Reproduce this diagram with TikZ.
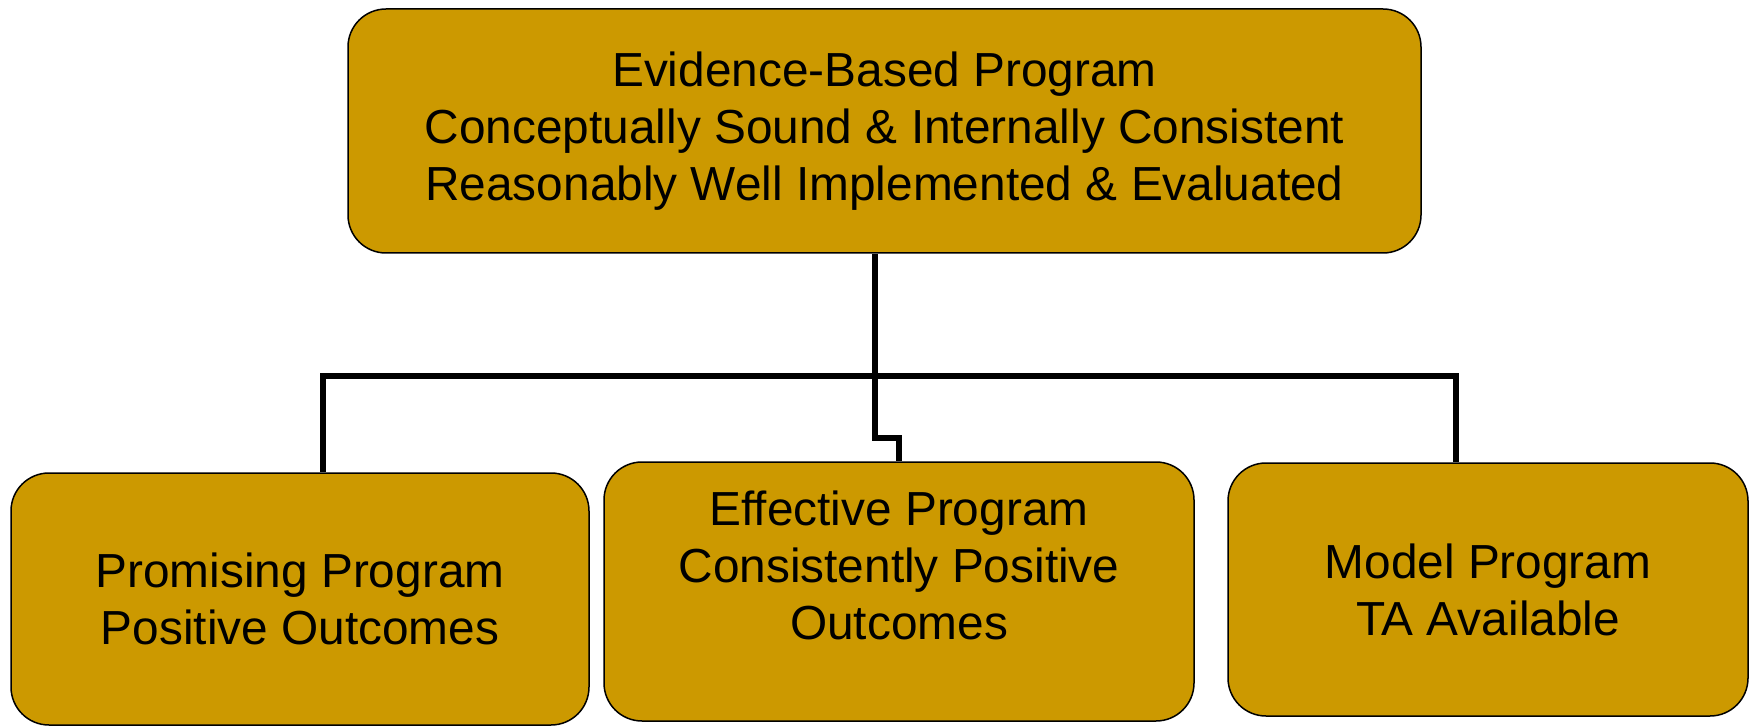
\documentclass[tikz,border=0pt]{standalone}
\usepackage{fontspec}
\setmainfont{Liberation Sans}
\usepackage{xcolor}
\usepackage{tikz}
\usetikzlibrary{positioning}
\definecolor{gold}{HTML}{CC9900}

\begin{document}
\begin{tikzpicture}[x=0.5pt, y=-0.5pt, font=\fontsize{23.9}{28.5}\selectfont,
  box/.style={draw, line width=0.75pt, fill=gold, rounded corners=19pt, align=center, inner sep=0pt},
  wire/.style={line width=2.6pt}]
\useasboundingbox (0,0) rectangle (1755,727);
\node[box, minimum width=536.5pt, minimum height=122pt] (ebp) at (884.5,131)
  {Evidence-Based Program\\Conceptually Sound \& Internally Consistent\\Reasonably Well Implemented \& Evaluated};
\node[box, minimum width=289pt, minimum height=126pt] (prom) at (300,599)
  {Promising Program\\Positive Outcomes};
\node[box, minimum width=295pt, minimum height=129.5pt,
  label={[align=center, yshift=13pt]center:{Effective Program\\Consistently Positive\\Outcomes}}] (eff) at (899,591.5) {};
\node[box, minimum width=260pt, minimum height=126.5pt] (model) at (1488,589.5)
  {Model Program\\TA Available};
% joints of the tree
\coordinate (hub) at (875,376);
\coordinate (jog) at (875,438);
\coordinate (lj) at (323,376);
\coordinate (rj) at (1456,376);
\draw[wire] (ebp.south -| hub) -- (hub);
\draw[wire] (hub) -- (lj) -- (prom.north -| lj);
\draw[wire] (hub) -- (rj) -- (model.north -| rj);
\draw[wire] (hub) -- (jog) -| (eff.north);
\end{tikzpicture}
\end{document}
